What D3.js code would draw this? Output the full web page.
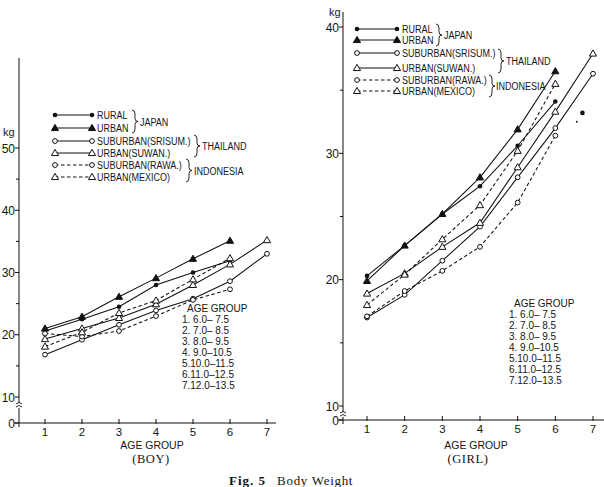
<!DOCTYPE html>
<html>
<head>
<meta charset="utf-8">
<script src="https://cdn.jsdelivr.net/npm/d3@7"></script>
<style>
body { margin: 0; background: #fff; }
svg { display: block; }
text { font-family: "Liberation Sans", Arial, sans-serif; fill: #151515; }
.serif { font-family: "Liberation Serif", "Times New Roman", serif; }
</style>
</head>
<body>
<div id="chart"></div>
<script>
// age group 1..7
const ageGroups = [1, 2, 3, 4, 5, 6, 7];
const ageGroupNotes = ["AGE GROUP", "1. 6.0\u2013 7.5", "2. 7.0\u2013 8.5", "3. 8.0\u2013 9.5",
    "4. 9.0\u201310.5", "5.10.0\u201311.5", "6.11.0\u201312.5", "7.12.0\u201313.5"];

// body weight (kg), BOY
const boyRuralJapan = [20.6, 22.5, 24.5, 28.0, 30.0, 31.9];
const boyUrbanJapan = [21.0, 22.9, 26.1, 29.1, 32.2, 35.1];
const boySrisum = [16.8, 19.2, 21.6, 23.9, 25.8, 28.6, 33.0];
const boySuwan = [19.3, 21.0, 22.7, 24.9, 28.0, 31.3, 35.2];
const boyRawa = [20.2, 19.7, 20.6, 23.0, 25.6, 27.3];
const boyMexico = [18.1, 20.4, 23.5, 25.5, 28.9, 32.3];

// body weight (kg), GIRL
const girlRuralJapan = [20.3, 22.7, 25.2, 27.4, 30.6, 34.1];
const girlUrbanJapan = [19.9, 22.7, 25.2, 28.1, 31.9, 36.5];
const girlSrisum = [17.0, 18.8, 21.5, 24.2, 28.1, 32.0, 36.3];
const girlSuwan = [18.9, 20.5, 22.6, 24.5, 28.9, 33.3, 37.9];
const girlRawa = [17.1, 19.1, 20.7, 22.6, 26.1, 31.4];
const girlMexico = [18.0, 20.4, 23.2, 25.9, 30.2, 35.5];
// stray point beside group 6 on the girl chart
const girlExtraAges = [6.57, 6.72];
const girlExtraKg = [32.5, 33.2];

const seriesNames = ["RURAL", "URBAN", "SUBURBAN(SRISUM.)", "URBAN(SUWAN.)", "SUBURBAN(RAWA.)", "URBAN(MEXICO)"];
const seriesMarks = ["dot", "tri", "circle", "opentri", "circle", "opentri"];
const seriesDashed = [false, false, false, false, true, true];

const W = 604, H = 487;
const svg = d3.select("#chart").append("svg").attr("width", W).attr("height", H);

function marker(g, type, cx, cy) {
    if (type === "dot") {
        g.append("circle").attr("cx", cx).attr("cy", cy).attr("r", 2.3).attr("fill", "#111");
    } else if (type === "circle") {
        g.append("circle").attr("cx", cx).attr("cy", cy).attr("r", 2.4)
            .attr("fill", "#fff").attr("stroke", "#111").attr("stroke-width", 1);
    } else {
        g.append("path").attr("transform", `translate(${cx},${cy + 0.5})`)
            .attr("d", d3.symbol(d3.symbolTriangle, 22)())
            .attr("fill", type === "tri" ? "#111" : "#fff")
            .attr("stroke", "#111").attr("stroke-width", 1);
    }
}

function condense(sel, k) {
    sel.each(function() {
        const w = this.getComputedTextLength();
        d3.select(this).attr("textLength", w * k).attr("lengthAdjust", "spacingAndGlyphs");
    });
}

function brace(g, x, y0, y1) {
    const m = (y0 + y1) / 2;
    g.append("path")
        .attr("d", `M${x},${y0} Q${x + 3},${y0} ${x + 3},${y0 + 4} L${x + 3},${m - 3} Q${x + 3},${m} ${x + 6},${m}
            Q${x + 3},${m} ${x + 3},${m + 3} L${x + 3},${y1 - 4} Q${x + 3},${y1} ${x},${y1}`)
        .attr("fill", "none").attr("stroke", "#111").attr("stroke-width", 0.9);
}

function drawPanel(p) {
    const g = svg.append("g");
    const x = d3.scaleLinear().domain([1, 7]).range(p.xRange);
    const y = d3.scaleLinear().domain([10, p.yMax]).range(p.yRange);
    const ax = p.axisX, zeroY = p.zeroY;

    // y axis with break below 10
    g.append("line").attr("x1", ax).attr("x2", ax).attr("y1", p.axisTop).attr("y2", y(10) + 6)
        .attr("stroke", "#111").attr("stroke-width", 1);
    g.append("line").attr("x1", ax).attr("x2", ax).attr("y1", y(10) + 11).attr("y2", zeroY + 4)
        .attr("stroke", "#111").attr("stroke-width", 1);
    g.append("path").attr("d", `M${ax - 3},${y(10) + 7} q3,-3 6,0 M${ax - 3},${y(10) + 10} q3,-3 6,0`)
        .attr("fill", "none").attr("stroke", "#111").attr("stroke-width", 0.9);

    const ticks = d3.range(10, p.yMax + 1, 5);
    g.selectAll(".yt").data(ticks).join("line")
        .attr("x1", d => ax - (d % 10 === 0 ? 4 : 3)).attr("x2", ax)
        .attr("y1", d => y(d)).attr("y2", d => y(d))
        .attr("stroke", "#111").attr("stroke-width", 1);
    g.selectAll(".yl").data(ticks.filter(d => d % 10 === 0)).join("text")
        .attr("x", ax - 4).attr("y", d => y(d) + 4.5)
        .attr("text-anchor", "end").attr("font-size", 12).text(d => d);
    g.append("text").attr("x", ax - 4).attr("y", zeroY + 4.5)
        .attr("text-anchor", "end").attr("font-size", 12).text("0");
    g.append("line").attr("x1", ax - 4).attr("x2", ax).attr("y1", zeroY).attr("y2", zeroY)
        .attr("stroke", "#111");
    g.append("text").attr("x", p.kgX).attr("y", p.kgY).attr("font-size", 11).text("kg");

    // x axis
    g.append("line").attr("x1", ax - 5).attr("x2", p.xEnd).attr("y1", zeroY).attr("y2", zeroY)
        .attr("stroke", "#111").attr("stroke-width", 1.1);
    g.selectAll(".xt").data(ageGroups).join("line")
        .attr("x1", d => x(d)).attr("x2", d => x(d)).attr("y1", zeroY - 4).attr("y2", zeroY + 1)
        .attr("stroke", "#111");
    g.selectAll(".xl").data(ageGroups).join("text")
        .attr("x", d => x(d)).attr("y", zeroY + 12.5)
        .attr("text-anchor", "middle").attr("font-size", 11.5).text(d => d);
    g.append("text").attr("x", p.labelX).attr("y", 449)
        .attr("text-anchor", "middle").attr("font-size", 11).text("AGE GROUP")
        .call(condense, 0.95);
    g.append("text").attr("class", "serif").attr("x", p.sexX).attr("y", 463)
        .attr("text-anchor", "middle").attr("font-size", 12.5).attr("letter-spacing", 0.6).text(p.sex);

    // series
    const line = d3.line().x(d => x(d.age)).y(d => y(d.kg));
    p.data.forEach((vals, i) => {
        const pts = vals.map((v, j) => ({ age: ageGroups[j], kg: v }));
        g.append("path").attr("d", line(pts)).attr("fill", "none")
            .attr("stroke", "#111").attr("stroke-width", 1.05)
            .attr("stroke-dasharray", seriesDashed[i] ? "3.5,2.5" : null);
    });
    p.data.forEach((vals, i) => {
        vals.forEach((v, j) => marker(g, seriesMarks[i], x(ageGroups[j]), y(v)));
    });
    if (p.extra) {
        g.append("circle").attr("cx", x(p.extra.ages[0])).attr("cy", y(p.extra.kg[0])).attr("r", 0.9).attr("fill", "#111");
        marker(g, "dot", x(p.extra.ages[1]), y(p.extra.kg[1]));
    }

    // legend
    const lg = g.append("g");
    seriesNames.forEach((name, i) => {
        const ly = p.legRows[i];
        lg.append("line").attr("x1", p.legX[0]).attr("x2", p.legX[1]).attr("y1", ly).attr("y2", ly)
            .attr("stroke", "#111").attr("stroke-width", 1.05)
            .attr("stroke-dasharray", seriesDashed[i] ? "3.5,2.5" : null);
        marker(lg, seriesMarks[i], p.legX[0], ly);
        marker(lg, seriesMarks[i], p.legX[1], ly);
        lg.append("text").attr("x", p.legX[1] + 5).attr("y", ly + 3.8)
            .attr("font-size", 10).text(name).call(condense, 0.9);
    });
    p.groups.forEach(gr => {
        brace(lg, gr.bx, gr.y0, gr.y1);
        lg.append("text").attr("x", gr.tx).attr("y", (gr.y0 + gr.y1) / 2 + 4)
            .attr("font-size", 10).text(gr.name).call(condense, 0.9);
    });

    // age group key
    g.selectAll(".note").data(ageGroupNotes).join("text")
        .attr("x", (d, i) => p.noteX + (i === 0 ? 5 : 0))
        .attr("y", (d, i) => p.noteY + i * p.noteStep)
        .attr("font-size", 10.5).text(d => d).call(condense, 0.95);
}

drawPanel({
    sex: "(BOY)", data: [boyRuralJapan, boyUrbanJapan, boySrisum, boySuwan, boyRawa, boyMexico],
    xRange: [45, 267], yMax: 50, yRange: [397, 148], axisX: 19, axisTop: 58, zeroY: 423, xEnd: 276,
    kgX: 3, kgY: 136, labelX: 152, sexX: 151,
    legX: [55, 92], legRows: [115, 128, 141, 153, 165, 177],
    groups: [
        { name: "JAPAN", bx: 132, y0: 110, y1: 133, tx: 140 },
        { name: "THAILAND", bx: 194, y0: 135, y1: 157, tx: 202 },
        { name: "INDONESIA", bx: 186, y0: 159, y1: 182, tx: 194 }
    ],
    noteX: 182, noteY: 312, noteStep: 11
});

drawPanel({
    sex: "(GIRL)", data: [girlRuralJapan, girlUrbanJapan, girlSrisum, girlSuwan, girlRawa, girlMexico],
    xRange: [367, 593], yMax: 40, yRange: [406, 27], axisX: 343, axisTop: 12, zeroY: 420, xEnd: 604,
    kgX: 329, kgY: 16, labelX: 476, sexX: 468,
    legX: [357, 397], legRows: [29, 40, 53, 68, 80, 91],
    groups: [
        { name: "JAPAN", bx: 436, y0: 24, y1: 46, tx: 444 },
        { name: "THAILAND", bx: 498, y0: 49, y1: 73, tx: 506 },
        { name: "INDONESIA", bx: 489, y0: 75, y1: 97, tx: 496 }
    ],
    noteX: 509, noteY: 307, noteStep: 11, extra: { ages: girlExtraAges, kg: girlExtraKg }
});

// caption
const cap = svg.append("text").attr("class", "serif").attr("x", 229).attr("y", 485).attr("font-size", 13);
cap.append("tspan").attr("font-weight", "bold").attr("letter-spacing", 1).text("Fig. 5");
cap.append("tspan").attr("dx", 11).attr("letter-spacing", 0.7).text("Body Weight");
</script>
</body>
</html>
